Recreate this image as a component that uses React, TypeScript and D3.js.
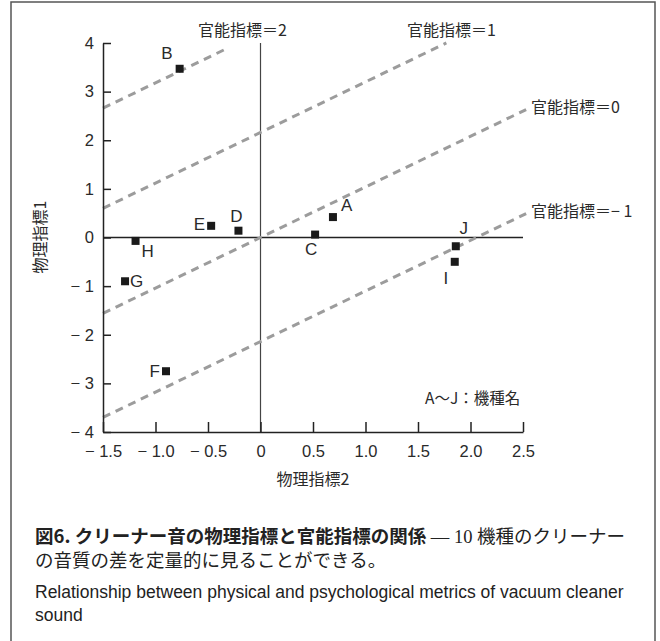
import React, { useEffect, useRef } from 'react';
import * as d3 from 'd3';

// tick values / labels
const xTicks = [-1.5, -1, -0.5, 0, 0.5, 1, 1.5, 2, 2.5];
const xTickLabels = ['− 1.5', '− 1.0', '− 0.5', '0', '0.5', '1.0', '1.5', '2.0', '2.5'];
const yTicks = [-4, -3, -2, -1, 0, 1, 2, 3, 4];
const yTickLabels = ['− 4', '− 3', '− 2', '− 1', '0', '1', '2', '3', '4'];

// cleaner models (physical metric 2 on x, physical metric 1 on y)
const models = ['A', 'B', 'C', 'D', 'E', 'F', 'G', 'H', 'I', 'J'];
const physical2 = [0.69, -0.77, 0.52, -0.21, -0.47, -0.9, -1.29, -1.19, 1.85, 1.86];
const physical1 = [0.42, 3.47, 0.06, 0.14, 0.24, -2.75, -0.9, -0.07, -0.5, -0.18];

// iso-lines of the psychological metric
const sensoryLevels = ['2', '1', '0', '− 1'];
const sensoryIntercepts = [4.22, 2.16, 0, -2.14];
const sensorySlope = 1.04;
const sensoryLineEnds = [-0.34, 1.77, 2.53, 2.53];

const gothic = '"Noto Sans CJK JP", "Liberation Sans", sans-serif';
const latin = '"Liberation Sans", Arial, sans-serif';
const mincho = '"Liberation Serif", "Noto Sans CJK JP", serif';

const App = () => {
  const ref = useRef<SVGSVGElement>(null);

  useEffect(() => {
    const svg = d3.select(ref.current);
    svg.selectAll('*').remove();

    const height = 641;
    const ink = '#222';

    // frame
    svg.append('path')
      .attr('d', `M11,${height} V2 H655 V${height}`)
      .attr('fill', 'none')
      .attr('stroke', '#555')
      .attr('stroke-width', 1.5);

    const x = d3.scaleLinear().domain([-1.5, 2.5]).range([103, 523]);
    const y = d3.scaleLinear().domain([-4, 4]).range([432, 43]);

    // zero lines
    svg.append('line')
      .attr('x1', x(-1.5)).attr('x2', x(2.5))
      .attr('y1', y(0)).attr('y2', y(0))
      .attr('stroke', ink).attr('stroke-width', 1.3);
    svg.append('line')
      .attr('x1', x(0)).attr('x2', x(0))
      .attr('y1', y(4)).attr('y2', y(-4))
      .attr('stroke', '#444').attr('stroke-width', 1.2);

    // dashed iso-lines
    const line = d3.line<number[]>()
      .x((d) => x(d[0]))
      .y((d) => y(d[1]));
    sensoryIntercepts.forEach((b, i) => {
      const x0 = -1.5;
      const x1 = sensoryLineEnds[i];
      svg.append('path')
        .datum([[x0, sensorySlope * x0 + b], [x1, sensorySlope * x1 + b]])
        .attr('d', line)
        .attr('fill', 'none')
        .attr('stroke', '#9c9c9c')
        .attr('stroke-width', 3)
        .attr('stroke-dasharray', '8,6');
    });

    // y axis
    const yAxis = svg.append('g')
      .attr('transform', `translate(${x(-1.5)},0)`)
      .call(
        d3.axisLeft(y)
          .tickValues(yTicks)
          .tickFormat((d, i) => yTickLabels[i])
          .tickSizeInner(-8)
          .tickSizeOuter(0)
          .tickPadding(9)
      );
    // x axis
    const xAxis = svg.append('g')
      .attr('transform', `translate(0,${y(-4)})`)
      .call(
        d3.axisBottom(x)
          .tickValues(xTicks)
          .tickFormat((d, i) => xTickLabels[i])
          .tickSizeInner(-10)
          .tickSizeOuter(0)
          .tickPadding(13)
      );
    [xAxis, yAxis].forEach((g) => {
      g.selectAll('path, line').attr('stroke', ink).attr('stroke-width', 1.5);
      g.selectAll('text')
        .attr('fill', '#2a2a2a')
        .style('font-family', latin)
        .style('font-size', '16.5px');
    });

    // axis titles
    svg.append('text')
      .attr('x', 313).attr('y', 485)
      .attr('text-anchor', 'middle')
      .style('font-family', gothic).style('font-size', '16px')
      .attr('fill', '#2a2a2a')
      .text('物理指標2');
    svg.append('text')
      .attr('transform', 'translate(46,237) rotate(-90)')
      .attr('text-anchor', 'middle')
      .style('font-family', gothic).style('font-size', '16px')
      .attr('fill', '#2a2a2a')
      .text('物理指標1');

    // iso-line labels
    const isoLabelAt = [[198, 36], [407, 36], [531, 113], [531, 217]];
    sensoryLevels.forEach((lv, i) => {
      svg.append('text')
        .attr('x', isoLabelAt[i][0]).attr('y', isoLabelAt[i][1])
        .style('font-family', gothic).style('font-size', '16px')
        .attr('fill', '#2a2a2a')
        .text(`官能指標＝${lv}`);
    });

    // points
    const labelOffset: Record<string, [number, number, string]> = {
      A: [8, -6, 'start'],
      B: [-7, -10, 'end'],
      C: [-4, 20, 'middle'],
      D: [-2, -9, 'middle'],
      E: [-6, 4, 'end'],
      F: [-6, 6, 'end'],
      G: [5, 6, 'start'],
      H: [6, 16, 'start'],
      I: [-9, 22, 'middle'],
      J: [8, -12, 'middle'],
    };
    models.forEach((m, i) => {
      const px = x(physical2[i]);
      const py = y(physical1[i]);
      svg.append('rect')
        .attr('x', px - 4).attr('y', py - 4)
        .attr('width', 8).attr('height', 8)
        .attr('fill', '#1a1a1a');
      const [dx, dy, anchor] = labelOffset[m];
      svg.append('text')
        .attr('x', px + dx).attr('y', py + dy)
        .attr('text-anchor', anchor)
        .style('font-family', latin).style('font-size', '17px')
        .attr('fill', '#2a2a2a')
        .text(m);
    });

    svg.append('text')
      .attr('x', 425).attr('y', 404)
      .style('font-family', gothic).style('font-size', '15.5px')
      .attr('fill', '#2a2a2a')
      .text('A〜J：機種名');

    // caption
    const cap = svg.append('text')
      .attr('x', 35).attr('y', 543)
      .style('font-size', '18.5px')
      .attr('fill', '#222');
    cap.append('tspan')
      .style('font-family', gothic).style('font-weight', 'bold')
      .text('図6. クリーナー音の物理指標と官能指標の関係');
    cap.append('tspan')
      .style('font-family', mincho)
      .text(' — 10 機種のクリーナー');
    svg.append('text')
      .attr('x', 35).attr('y', 567)
      .style('font-family', mincho).style('font-size', '18.5px')
      .attr('fill', '#222')
      .text('の音質の差を定量的に見ることができる。');
    svg.append('text')
      .attr('x', 35).attr('y', 598)
      .style('font-family', latin).style('font-size', '17.5px')
      .attr('fill', '#222')
      .text('Relationship between physical and psychological metrics of vacuum cleaner');
    svg.append('text')
      .attr('x', 35).attr('y', 621)
      .style('font-family', latin).style('font-size', '17.5px')
      .attr('fill', '#222')
      .text('sound');
  }, []);

  return (
    <div style={{ position: 'absolute', left: 0, top: 0 }}>
      <svg ref={ref} width={660} height={641} style={{ display: 'block', background: '#fff' }} />
    </div>
  );
};

export default App;
